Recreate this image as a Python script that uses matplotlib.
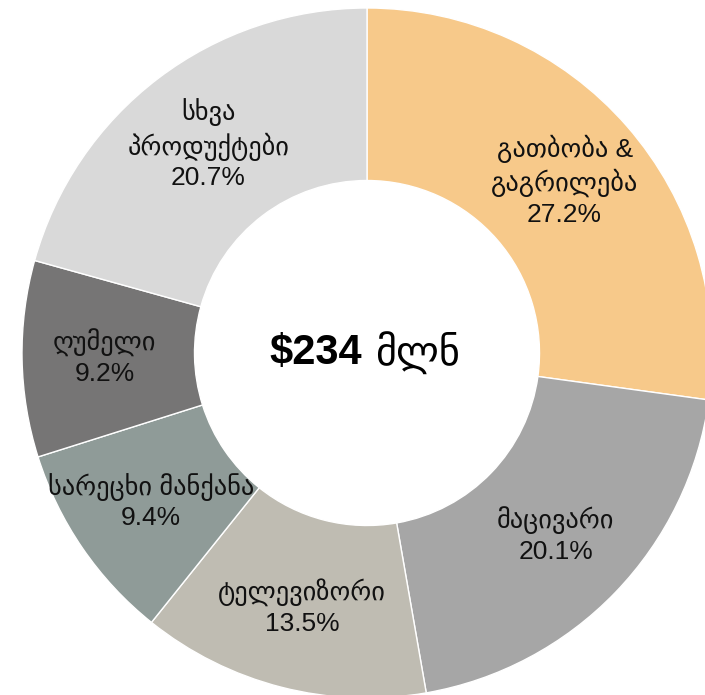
import numpy as np
import matplotlib
matplotlib.use("Agg")
import matplotlib.pyplot as plt

# categories and shares (%)
labels = ["გათბობა &\nგაგრილება", "მაცივარი", "ტელევიზორი", "სარეცხი მანქანა", "ღუმელი", "სხვა\nპროდუქტები"]
shares = [27.2, 20.1, 13.5, 9.4, 9.2, 20.7]
colors = ["#F7C98A", "#A6A6A6", "#BFBCB2", "#8F9B98", "#767575", "#D9D9D9"]
total_label = "\\$234"
unit_label = "მლნ"

fonts = ["Liberation Sans", "DejaVu Sans"]

fig = plt.figure(figsize=(7.05, 6.95), dpi=100)
ax = fig.add_axes([0, 0, 1, 1])

wedges, _ = ax.pie(shares, colors=colors, startangle=90, counterclock=False,
                   radius=1.0, wedgeprops=dict(width=0.5, edgecolor="white", linewidth=1))

# labels in the middle of the ring
tot = sum(shares)
cum = 0
for lab, v in zip(labels, shares):
    mid = cum + v / 2
    cum += v
    ang = np.deg2rad(90 - mid / tot * 360)
    r = 0.76
    ax.text(r * np.cos(ang), r * np.sin(ang), f"{lab}\n{v:.1f}%",
            ha="center", va="center", fontsize=19, family=fonts,
            linespacing=1.28, color="#111111")

# centre text
px = 1 / 345
ax.text(-5 * px, 0, total_label, ha="right", va="center", fontsize=30,
        fontweight="bold", family=fonts)
ax.text(8 * px, 0, unit_label, ha="left", va="center", fontsize=29, family=fonts)

ax.set_xlim(-367 / 345, (705 - 367) / 345)
ax.set_ylim(-(695 - 353) / 345, 353 / 345)
ax.set_aspect("auto")
ax.axis("off")

fig.savefig("out.png", dpi=100)
